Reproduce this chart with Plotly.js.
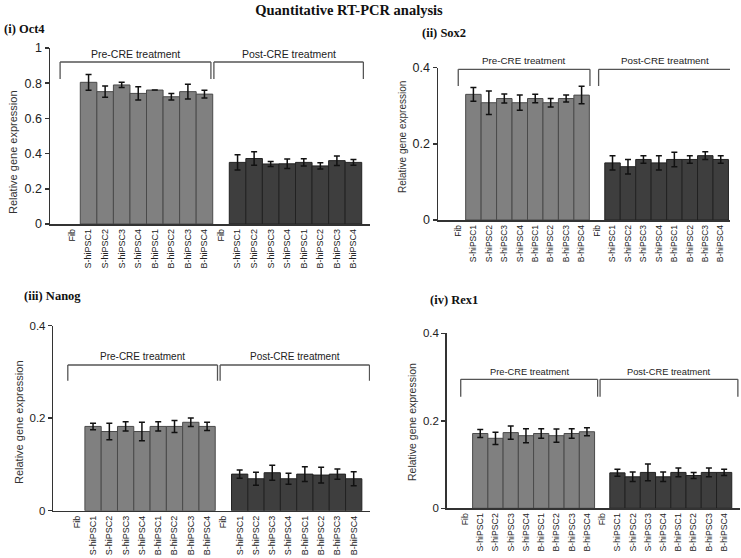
<!DOCTYPE html>
<html>
<head>
<meta charset="utf-8">
<script src="https://cdn.plot.ly/plotly-3.0.1.min.js"></script>
<style>html,body{margin:0;padding:0;background:#fff}#chart{width:741px;height:558px}</style>
</head>
<body>
<div id="chart"></div>
<script>
// ---- data ----
const categories = ['Fib','S-hiPSC1','S-hiPSC2','S-hiPSC3','S-hiPSC4','B-hiPSC1','B-hiPSC2','B-hiPSC3','B-hiPSC4',
                    'Fib','S-hiPSC1','S-hiPSC2','S-hiPSC3','S-hiPSC4','B-hiPSC1','B-hiPSC2','B-hiPSC3','B-hiPSC4'];
const groupLabels = ['Pre-CRE treatment','Post-CRE treatment'];
const panelTitles = ['(i) Oct4','(ii) Sox2','(iii) Nanog','(iv) Rex1'];
const mainTitle = 'Quantitative RT-PCR analysis';
const yAxisTitle = 'Relative gene expression';

// NaN = no error bar (Fib: no detectable expression)
const oct4Values  = [0,0.805,0.752,0.79,0.742,0.761,0.723,0.752,0.738, 0,0.35,0.372,0.341,0.342,0.35,0.33,0.36,0.35];
const oct4Errors  = [NaN,0.045,0.032,0.015,0.038,0,0.018,0.042,0.022, NaN,0.043,0.038,0.014,0.027,0.021,0.018,0.027,0.016];
const sox2Values  = [0,0.33,0.308,0.319,0.308,0.319,0.308,0.319,0.328, 0,0.15,0.14,0.159,0.15,0.159,0.159,0.169,0.159];
const sox2Errors  = [NaN,0.018,0.031,0.012,0.02,0.011,0.011,0.009,0.023, NaN,0.019,0.019,0.01,0.019,0.019,0.01,0.01,0.01];
const nanogValues = [0,0.182,0.171,0.182,0.171,0.182,0.182,0.191,0.182, 0,0.079,0.069,0.082,0.069,0.079,0.077,0.079,0.069];
const nanogErrors = [NaN,0.007,0.018,0.01,0.02,0.01,0.013,0.009,0.009, NaN,0.009,0.014,0.016,0.012,0.016,0.017,0.011,0.015];
const rex1Values  = [0,0.171,0.16,0.173,0.166,0.171,0.166,0.171,0.175, 0,0.081,0.072,0.082,0.072,0.082,0.075,0.082,0.082];
const rex1Errors  = [NaN,0.009,0.014,0.015,0.016,0.011,0.015,0.011,0.009, NaN,0.008,0.011,0.019,0.011,0.01,0.007,0.01,0.007];

const yTicks4 = [0,0.2,0.4];
const yTickText4 = ['0','0.2','0.4'];
const yTicks1 = [0,0.2,0.4,0.6,0.8,1];
const yTickText1 = ['0','0.2','0.4','0.6','0.8','1'];

// ---- layout helpers (pixel geometry) ----
const W = 741, H = 558;
const px = x => x / W;
const py = y => 1 - y / H;

const panels = [
  {values: oct4Values, errors: oct4Errors, ticks: yTicks1, tickText: yTickText1, yMax: 1,
   xPix: [50, 370], yPix: [224, 48], xRange: [-1.33, 18.0], tickSize: 12.5, xTickSize: 9,
   bracket: {pre: [-0.72, 8.39], post: [8.57, 17.6], top: 62, leg: 79, text: 54, size: 10.5},
   label: {x: 2, y: 29}, ytitle: {x: 13, y: 152, size: 11}},
  {values: sox2Values, errors: sox2Errors, ticks: yTicks4, tickText: yTickText4, yMax: 0.4,
   xPix: [438, 730], yPix: [220, 67.7], xRange: [-1.29, 17.6], tickSize: 12.5, xTickSize: 8.5,
   bracket: {pre: [0.02, 8.54], post: [9.1, 17.65], top: 69.3, leg: 86, text: 61, size: 9.8},
   label: {x: 420, y: 33}, ytitle: {x: 402, y: 137, size: 10}},
  {values: nanogValues, errors: nanogErrors, ticks: yTicks4, tickText: yTickText4, yMax: 0.4,
   xPix: [53.3, 370], yPix: [510.7, 325.5], xRange: [-1.44, 18.0], tickSize: 11.5, xTickSize: 9,
   bracket: {pre: [-0.55, 8.64], post: [8.8, 17.97], top: 365, leg: 380.7, text: 356.7, size: 10},
   label: {x: 22, y: 296}, ytitle: {x: 19, y: 422, size: 11}},
  {values: rex1Values, errors: rex1Errors, ticks: yTicks4, tickText: yTickText4, yMax: 0.4,
   xPix: [446.7, 740], yPix: [508.3, 333.3], xRange: [-1.2, 18.04], tickSize: 11.5, xTickSize: 8.7,
   bracket: {pre: [-0.28, 8.7], post: [8.86, 17.9], top: 379.3, leg: 396.7, text: 371.7, size: 9.3}},
];
panels[3].label = {x: 428, y: 300};
panels[3].ytitle = {x: 412, y: 422, size: 10.5};

const preColor = '#808080', postColor = '#3e3e3e';
const xIdx = categories.map((_, i) => i);

const data = [];
const layout = {
  width: W, height: H,
  margin: {l: 0, r: 0, t: 0, b: 0},
  paper_bgcolor: '#fff', plot_bgcolor: 'rgba(0,0,0,0)',
  showlegend: false,
  bargap: 0,
  title: {text: '<b>' + mainTitle + '</b>', x: px(349), xanchor: 'center', y: py(10), yanchor: 'middle',
          font: {family: 'Liberation Serif, Times New Roman, serif', size: 14.5, color: '#111'}},
  annotations: [], shapes: []
};

panels.forEach((p, k) => {
  const n = k + 1;
  const xa = 'x' + (n === 1 ? '' : n), ya = 'y' + (n === 1 ? '' : n);
  const xKey = 'xaxis' + (n === 1 ? '' : n), yKey = 'yaxis' + (n === 1 ? '' : n);
  data.push({
    type: 'bar', x: xIdx, y: p.values, xaxis: xa, yaxis: ya, width: 1,
    marker: {color: xIdx.map(i => i < 9 ? preColor : postColor),
             opacity: p.values.map(v => v > 0 ? 1 : 0),
             line: {color: xIdx.map(i => i < 9 ? '#4a4a4a' : '#222'),
                    width: p.values.map(v => v > 0 ? 1 : 0)}},
    error_y: {type: 'data', array: p.errors, visible: true, color: '#111', thickness: 1.5, width: 3},
    hoverinfo: 'skip'
  });
  layout[xKey] = {
    domain: [px(p.xPix[0]), px(p.xPix[1])], range: p.xRange, anchor: ya,
    tickmode: 'array', tickvals: xIdx, ticktext: categories, tickangle: -90,
    tickfont: {family: 'Liberation Sans, Arial, sans-serif', size: p.xTickSize, color: '#222'},
    showline: true, linecolor: '#333', linewidth: 1.5, ticks: '', showgrid: false, zeroline: false,
    fixedrange: true
  };
  layout[yKey] = {
    domain: [py(p.yPix[0]), py(p.yPix[1])], range: [0, p.yMax], anchor: xa,
    tickmode: 'array', tickvals: p.ticks, ticktext: p.tickText,
    tickfont: {family: 'Liberation Sans, Arial, sans-serif', size: p.tickSize, color: '#222'},
    ticks: 'outside', ticklen: 4, tickwidth: 1.5, tickcolor: '#333',
    showline: true, linecolor: '#333', linewidth: 1.5, showgrid: false, zeroline: false,
    fixedrange: true
  };
  // brackets
  const b = p.bracket;
  [b.pre, b.post].forEach((seg, g) => {
    const line = {color: '#555', width: 1.3};
    layout.shapes.push({type: 'line', xref: xa, yref: 'paper', x0: seg[0], x1: seg[1], y0: py(b.top), y1: py(b.top), line});
    layout.shapes.push({type: 'line', xref: xa, yref: 'paper', x0: seg[0], x1: seg[0], y0: py(b.top), y1: py(b.leg), line});
    layout.shapes.push({type: 'line', xref: xa, yref: 'paper', x0: seg[1], x1: seg[1], y0: py(b.top), y1: py(b.leg), line});
    layout.annotations.push({text: groupLabels[g], xref: xa, yref: 'paper', x: (seg[0] + seg[1]) / 2, y: py(b.text),
      xanchor: 'center', yanchor: 'middle', showarrow: false,
      font: {family: 'Liberation Sans, Arial, sans-serif', size: b.size, color: '#222'}});
  });
  // panel label
  layout.annotations.push({text: '<b>' + panelTitles[k] + '</b>', xref: 'paper', yref: 'paper',
    x: px(p.label.x), y: py(p.label.y), xanchor: 'left', yanchor: 'middle', showarrow: false,
    font: {family: 'Liberation Serif, Times New Roman, serif', size: 12.5, color: '#111'}});
  // y axis title
  layout.annotations.push({text: yAxisTitle, xref: 'paper', yref: 'paper',
    x: px(p.ytitle.x), y: py(p.ytitle.y), xanchor: 'center', yanchor: 'middle', textangle: -90, showarrow: false,
    font: {family: 'Liberation Sans, Arial, sans-serif', size: p.ytitle.size, color: '#333'}});
});

Plotly.newPlot('chart', data, layout, {staticPlot: true, displayModeBar: false});
</script>
</body>
</html>
